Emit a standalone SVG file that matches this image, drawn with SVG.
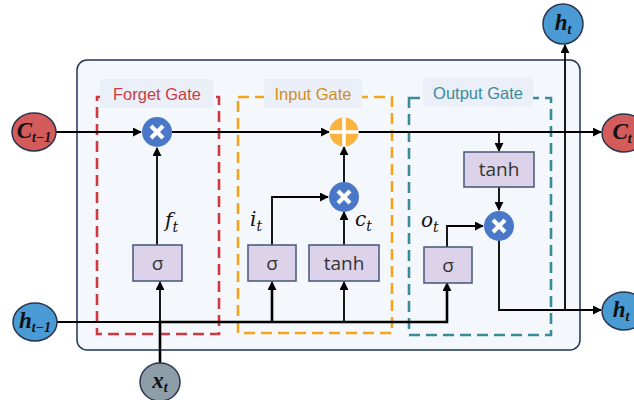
<svg xmlns="http://www.w3.org/2000/svg" width="634" height="400" viewBox="0 0 634 400">
<defs>
<marker id="arr" viewBox="0 0 10 10" refX="9" refY="5" markerWidth="5" markerHeight="5" orient="auto-start-reverse" markerUnits="strokeWidth">
<path d="M0,0 L10,5 L0,10 z" fill="#000"/>
</marker>
<style>
.ln{fill:none;stroke:#000;stroke-width:1.8}
.thk{fill:none;stroke:#000;stroke-width:2.6}
.box{fill:#dcd3ea;stroke:#46557a;stroke-width:1.5}
.btxt{font-family:"Open Sans","DejaVu Sans",sans-serif;font-size:19px;fill:#333;text-anchor:middle}
.gate{fill:none;stroke-width:2.6;stroke-dasharray:11 6}
.glbl{fill:#ebf0f8}
.gtxt{font-family:"Liberation Sans",Arial,sans-serif;font-size:16.5px;text-anchor:middle}
.math{font-family:"DejaVu Serif","Liberation Serif",serif;font-style:italic;font-size:20px;fill:#111}
.nlbl{font-family:"Liberation Serif","DejaVu Serif",serif;font-style:italic;font-weight:bold;font-size:23px;fill:#111;text-anchor:middle}
.sub{font-size:14px}
.node{stroke:#2a3550;stroke-width:1.5}
.opx{stroke:#fff;stroke-width:4.2;stroke-linecap:butt}
</style>
</defs>

<rect id="cell" x="77" y="60" width="503" height="290" rx="10" fill="#f4f8fd" stroke="#1f3557" stroke-width="1.5"/>

<g id="forget-gate">
<rect class="gate" x="97" y="97" width="122" height="237" stroke="#d0393f"/>
<rect class="glbl" x="100" y="79" width="113" height="29"/>
<text class="gtxt" x="157" y="100" fill="#d0393f">Forget Gate</text>
</g>
<g id="input-gate">
<rect class="gate" x="238" y="97" width="154" height="236" stroke="#f5a31a"/>
<rect class="glbl" x="264" y="79" width="98" height="29"/>
<text class="gtxt" x="313" y="100" fill="#d28f1c">Input Gate</text>
</g>
<g id="output-gate">
<rect class="gate" x="409" y="98" width="142" height="237" stroke="#3a8a9a"/>
<rect class="glbl" x="423" y="77" width="110" height="30"/>
<text class="gtxt" x="478" y="99" fill="#3a8a9f">Output Gate</text>
</g>

<g id="connectors">
<line class="ln" x1="56" y1="132" x2="141" y2="132" marker-end="url(#arr)"/>
<line class="ln" x1="172" y1="132" x2="329" y2="132" marker-end="url(#arr)"/>
<line class="ln" x1="358" y1="132" x2="601" y2="132" marker-end="url(#arr)"/>
<line class="ln" x1="499" y1="132" x2="499" y2="151" marker-end="url(#arr)"/>
<line class="ln" x1="499" y1="187" x2="499" y2="210" marker-end="url(#arr)"/>
<polyline class="ln" points="499,240 499,310 601,310" marker-end="url(#arr)"/>
<line class="ln" x1="565" y1="310" x2="565" y2="45" marker-end="url(#arr)"/>
<line class="ln" x1="157" y1="245" x2="157" y2="148" marker-end="url(#arr)"/>
<polyline class="ln" points="272,245 272,197 328,197" marker-end="url(#arr)"/>
<line class="ln" x1="344" y1="245" x2="344" y2="212" marker-end="url(#arr)"/>
<line class="ln" x1="344" y1="182" x2="344" y2="147" marker-end="url(#arr)"/>
<polyline class="ln" points="447,247 447,226 483,226" marker-end="url(#arr)"/>
<line class="ln" x1="57" y1="322" x2="160" y2="322"/>
<line class="thk" x1="160" y1="363" x2="160" y2="322"/>
<polyline class="thk" points="159,322 447,322 447,290"/>
<line class="ln" x1="447" y1="292" x2="447" y2="283" marker-end="url(#arr)"/>
<line class="ln" x1="160" y1="322" x2="160" y2="282" marker-end="url(#arr)"/>
<line class="thk" x1="272" y1="322" x2="272" y2="290"/>
<line class="ln" x1="272" y1="292" x2="272" y2="282" marker-end="url(#arr)"/>
<line class="ln" x1="344" y1="322" x2="344" y2="282" marker-end="url(#arr)"/>
</g>

<g id="sigma-f"><rect class="box" x="133" y="245" width="49" height="36"/><text class="btxt" x="157.5" y="270">σ</text></g>
<g id="sigma-i"><rect class="box" x="248" y="245" width="48" height="36"/><text class="btxt" x="272" y="270">σ</text></g>
<g id="tanh-c"><rect class="box" x="309" y="245" width="70" height="36"/><text class="btxt" x="344" y="270">tanh</text></g>
<g id="sigma-o"><rect class="box" x="424" y="247" width="48" height="36"/><text class="btxt" x="448" y="272">σ</text></g>
<g id="tanh-o"><rect class="box" x="464" y="152" width="70" height="35"/><text class="btxt" x="499" y="176">tanh</text></g>

<g id="mul-f"><circle cx="157" cy="132" r="15" fill="#4a78c8"/><path class="opx" d="M151,126 L163,138 M163,126 L151,138"/></g>
<g id="add-c"><circle cx="344" cy="132" r="14.5" fill="#fbb33f"/><path stroke="#fff" stroke-width="3.6" d="M329.5,132 H358.5 M344,117.5 V146.5"/></g>
<g id="mul-i"><circle cx="344" cy="197" r="15" fill="#4a78c8"/><path class="opx" d="M338,191 L350,203 M350,191 L338,203"/></g>
<g id="mul-o"><circle cx="499" cy="226" r="15" fill="#4a78c8"/><path class="opx" d="M493,220 L505,232 M505,220 L493,232"/></g>

<g id="lbl-f"><text class="math" x="165" y="227">f<tspan class="sub" dy="5">t</tspan></text></g>
<g id="lbl-i"><text class="math" x="250" y="226">i<tspan class="sub" dy="5">t</tspan></text></g>
<g id="lbl-c"><text class="math" x="355" y="226">c<tspan class="sub" dy="5">t</tspan></text></g>
<g id="lbl-o"><text class="math" x="421" y="227">o<tspan class="sub" dy="5">t</tspan></text></g>

<g id="c-prev"><ellipse class="node" cx="34" cy="132" rx="22" ry="19" fill="#d45b5b"/><text class="nlbl" x="34" y="138">C<tspan class="sub" dy="4">t−1</tspan></text></g>
<g id="c-t"><ellipse class="node" cx="624" cy="133" rx="22" ry="19" fill="#d45b5b"/><text class="nlbl" x="622" y="139">C<tspan class="sub" dy="4">t</tspan></text></g>
<g id="h-prev"><ellipse class="node" cx="35" cy="322" rx="22" ry="19" fill="#4a9ad4"/><text class="nlbl" x="35" y="328">h<tspan class="sub" dy="4">t−1</tspan></text></g>
<g id="h-out"><ellipse class="node" cx="563" cy="24" rx="20" ry="20" fill="#4a9ad4"/><text class="nlbl" x="563" y="30">h<tspan class="sub" dy="4">t</tspan></text></g>
<g id="h-t"><ellipse class="node" cx="624" cy="311" rx="22" ry="19" fill="#4a9ad4"/><text class="nlbl" x="621" y="317">h<tspan class="sub" dy="4">t</tspan></text></g>
<g id="x-t"><ellipse class="node" cx="160" cy="382" rx="20" ry="19" fill="#8e9ea8"/><text class="nlbl" x="160" y="388">x<tspan class="sub" dy="4">t</tspan></text></g>
</svg>
